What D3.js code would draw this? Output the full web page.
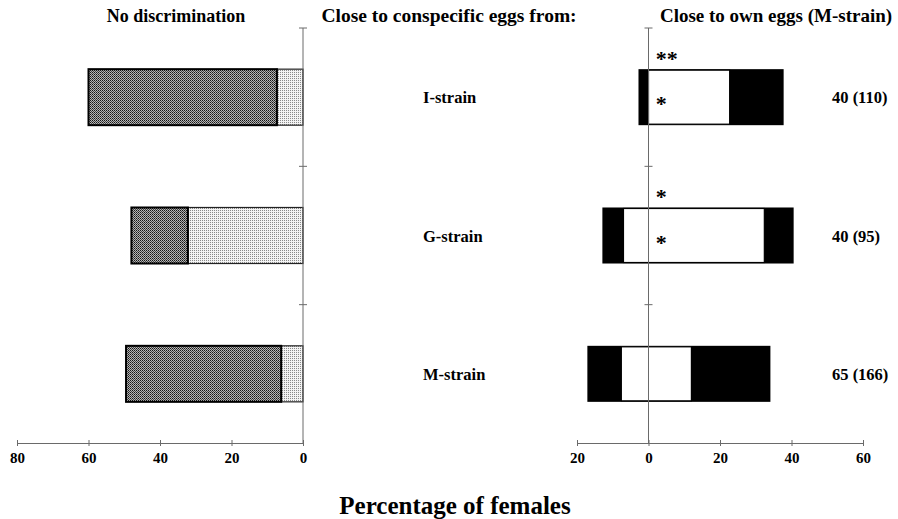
<!DOCTYPE html>
<html>
<head>
<meta charset="utf-8">
<script src="https://cdn.jsdelivr.net/npm/d3@7"></script>
<style>
  html, body { margin: 0; padding: 0; background: #fff; }
  svg { display: block; }
  text { font-family: "Liberation Serif", "Times New Roman", serif; font-weight: bold; fill: #000; }
</style>
</head>
<body>
<script>
// ---- data ----
const categories = ["I-strain", "G-strain", "M-strain"];
// left panel: "No discrimination" (plotted leftwards)
const noDiscLightEnd = [7.3, 32.2, 6.1];   // light dotted segment: 0 .. value
const noDiscTotal = [60, 48, 49.5];        // dark segment: lightEnd .. total
// right panel: "Close to own eggs (M-strain)"
const ownBlackLeft = [-2.8, -12.9, -17.1];
const ownWhiteLeft = [0, -7.0, -7.6];
const ownWhiteRight = [22.7, 32.4, 12.0];
const ownBlackRight = [37.8, 40.6, 34.1];
const sampleLabels = ["40 (110)", "40 (95)", "65 (166)"];
const starsAbove = ["**", "*", ""];
const starsInside = ["*", "*", ""];
const leftTicks = [80, 60, 40, 20, 0];
const rightTicks = [-20, 0, 20, 40, 60];

const W = 898, H = 519;
const svg = d3.select("body").append("svg").attr("width", W).attr("height", H);

const defs = svg.append("defs");
const pd = defs.append("pattern").attr("id", "darkPat").attr("patternUnits", "userSpaceOnUse")
  .attr("width", 2).attr("height", 2);
pd.append("rect").attr("width", 2).attr("height", 2).attr("fill", "#b5b5b5");
pd.append("rect").attr("width", 1).attr("height", 1).attr("fill", "#151515");
pd.append("rect").attr("x", 1).attr("y", 1).attr("width", 1).attr("height", 1).attr("fill", "#444");

const pl = defs.append("pattern").attr("id", "lightPat").attr("patternUnits", "userSpaceOnUse")
  .attr("width", 2).attr("height", 2);
pl.append("rect").attr("width", 2).attr("height", 2).attr("fill", "#f4f4f4");
pl.append("rect").attr("width", 1).attr("height", 1).attr("fill", "#8a8a8a");

// scales
const y = d3.scaleBand().domain(categories).range([28, 443]).paddingInner(0.595).paddingOuter(0.2975);
const yBound = d3.scaleLinear().domain([0, 3]).range([28, 443]);
const xL = d3.scaleLinear().domain([80, 0]).range([17, 303]);
const xR = d3.scaleLinear().domain([-20, 60]).range([577, 863]);

const axisColor = "#6a6a6a";

// ---- left panel bars ----
const gL = svg.append("g");
categories.forEach((c, i) => {
  gL.append("rect")
    .attr("x", xL(noDiscLightEnd[i])).attr("y", y(c))
    .attr("width", xL(0) - xL(noDiscLightEnd[i])).attr("height", y.bandwidth())
    .attr("fill", "url(#lightPat)").attr("stroke", "#222").attr("stroke-width", 1.2);
  gL.append("rect")
    .attr("x", xL(noDiscTotal[i])).attr("y", y(c))
    .attr("width", xL(noDiscLightEnd[i]) - xL(noDiscTotal[i])).attr("height", y.bandwidth())
    .attr("fill", "url(#darkPat)").attr("stroke", "#000").attr("stroke-width", 2);
});

// ---- right panel bars ----
const gR = svg.append("g");
categories.forEach((c, i) => {
  gR.append("rect")
    .attr("x", xR(ownBlackLeft[i])).attr("y", y(c))
    .attr("width", xR(ownBlackRight[i]) - xR(ownBlackLeft[i])).attr("height", y.bandwidth())
    .attr("fill", "#000");
  gR.append("rect")
    .attr("x", xR(ownWhiteLeft[i])).attr("y", y(c) + 1)
    .attr("width", xR(ownWhiteRight[i]) - xR(ownWhiteLeft[i])).attr("height", y.bandwidth() - 2)
    .attr("fill", "#fff").attr("stroke", "#000").attr("stroke-width", 1.2);
});

// ---- axes ----
function vAxis(x) {
  const g = svg.append("g");
  g.append("line").attr("x1", x).attr("x2", x).attr("y1", yBound(0)).attr("y2", yBound(3))
    .attr("stroke", axisColor).attr("stroke-width", 1);
  [0, 1, 2].forEach(k => {
    g.append("line").attr("x1", x - 4).attr("x2", x + 4).attr("y1", yBound(k)).attr("y2", yBound(k))
      .attr("stroke", axisColor).attr("stroke-width", 1);
  });
}
vAxis(xL(0));
vAxis(xR(0));

function hAxis(scale, ticks) {
  const g = svg.append("g").attr("transform", `translate(0,${yBound(3)})`)
    .call(d3.axisBottom(scale).tickValues(ticks).tickSize(3).tickSizeOuter(0)
      .tickFormat(d => Math.abs(d)));
  g.select(".domain").attr("stroke", axisColor);
  g.selectAll(".tick line").attr("stroke", axisColor).attr("y1", -3);
  g.selectAll(".tick text").attr("font-family", "Liberation Serif").attr("font-weight", "bold")
    .attr("font-size", 15).attr("fill", "#000").attr("y", 6).attr("dy", "0.95em");
  g.attr("font-family", null).attr("font-size", null);
}
hAxis(xL, leftTicks);
hAxis(xR, rightTicks);

// ---- category labels ----
categories.forEach((c, i) => {
  svg.append("text").attr("x", 423).attr("y", y(c) + y.bandwidth() / 2 + 6)
    .attr("text-anchor", "start").attr("font-size", 16.5).text(c);
  svg.append("text").attr("x", 832).attr("y", y(c) + y.bandwidth() / 2 + 6)
    .attr("text-anchor", "start").attr("font-size", 16.5).text(sampleLabels[i]);
  if (starsAbove[i]) {
    svg.append("text").attr("x", xR(2.0)).attr("y", y(c) - 3)
      .attr("font-size", 22).text(starsAbove[i]);
  }
  if (starsInside[i]) {
    svg.append("text").attr("x", xR(2.0)).attr("y", y(c) + y.bandwidth() / 2 + 14)
      .attr("font-size", 22).text(starsInside[i]);
  }
});

// ---- titles ----
svg.append("text").attr("x", 176).attr("y", 22).attr("text-anchor", "middle").attr("font-size", 18).text("No discrimination");
svg.append("text").attr("x", 449).attr("y", 22).attr("text-anchor", "middle").attr("font-size", 19.5).text("Close to conspecific eggs from:");
svg.append("text").attr("x", 776).attr("y", 22).attr("text-anchor", "middle").attr("font-size", 19).text("Close to own eggs (M-strain)");
svg.append("text").attr("x", 455).attr("y", 514).attr("text-anchor", "middle").attr("font-size", 25).text("Percentage of females");
</script>
</body>
</html>
